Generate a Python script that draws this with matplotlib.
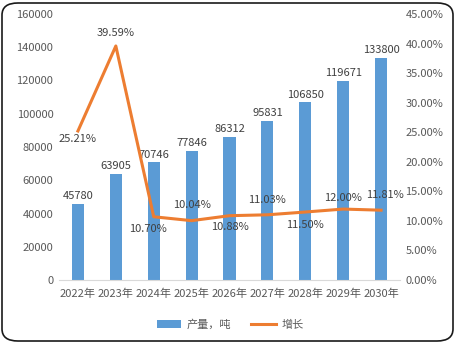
import matplotlib
matplotlib.use('Agg')
import matplotlib.pyplot as plt
from matplotlib.patches import FancyBboxPatch
from matplotlib.ticker import FuncFormatter

plt.rcParams['font.family'] = ['Noto Sans CJK SC', 'DejaVu Sans']

years = ['2022年', '2023年', '2024年', '2025年', '2026年', '2027年', '2028年', '2029年', '2030年']
output = [45780, 63905, 70746, 77846, 86312, 95831, 106850, 119671, 133800]
growth = [25.21, 39.59, 10.70, 10.04, 10.88, 11.03, 11.50, 12.00, 11.81]

# where each growth label sits relative to its point (dx, dy in points)
growth_offsets = [(0, -6), (0, 9), (-4, -9), (0, 11), (0, -8), (0, 11), (0, -9), (0, 8), (3, 11)]

txt = '#595959'
blue = '#5b9bd5'
orange = '#ed7d31'

fig = plt.figure(figsize=(4.56, 3.45), dpi=100)
ax = fig.add_axes([59/456, 1 - 280/345, 341/456, 266/345])
ax2 = ax.twinx()

x = list(range(len(years)))
bars = ax.bar(x, output, width=0.32, color=blue, label='产量，吨', zorder=2)
for xi, v in zip(x, output):
    ax.annotate(str(v), (xi, v), xytext=(0, 2), textcoords='offset points',
                ha='center', va='bottom', fontsize=8, color='#404040')

ax.set_xlim(-0.5, len(years) - 0.5)
ax.set_ylim(0, 160000)
ax.set_yticks(range(0, 160001, 20000))
ax.set_xticks(x)
ax.set_xticklabels(years)

ln, = ax2.plot(x, growth, color=orange, lw=2.2, label='增长', zorder=3)
for xi, g, (dx, dy) in zip(x, growth, growth_offsets):
    ax2.annotate('%.2f%%' % g, (xi, g), xytext=(dx, dy), textcoords='offset points',
                 ha='center', va='center', fontsize=8, color='#404040')
ax2.set_ylim(0, 45)
ax2.set_yticks(range(0, 46, 5))
ax2.yaxis.set_major_formatter(FuncFormatter(lambda v, p: '%.2f%%' % v))

for a in (ax, ax2):
    for s in ('top', 'left', 'right'):
        a.spines[s].set_visible(False)
    a.tick_params(length=0, labelsize=8, labelcolor=txt)
ax.spines['bottom'].set_color('#d9d9d9')
ax2.spines['bottom'].set_visible(False)
ax.tick_params(axis='x', pad=6)
ax.tick_params(axis='y', pad=4)
ax2.tick_params(axis='y', pad=4)

fig.legend(handles=[bars, ln], loc='center', bbox_to_anchor=(0.505, 1 - 325/345),
           ncol=2, frameon=False, fontsize=8, labelcolor=txt,
           handlelength=2.2, columnspacing=1.8, handletextpad=0.5)

border = FancyBboxPatch((2/456, 4/345), 451/456, 338/345,
                        boxstyle='round,pad=0,rounding_size=0.035',
                        transform=fig.transFigure, fill=False,
                        edgecolor='#1a1a1a', lw=1.2)
fig.patches.append(border)

fig.savefig('out.png', dpi=100)
